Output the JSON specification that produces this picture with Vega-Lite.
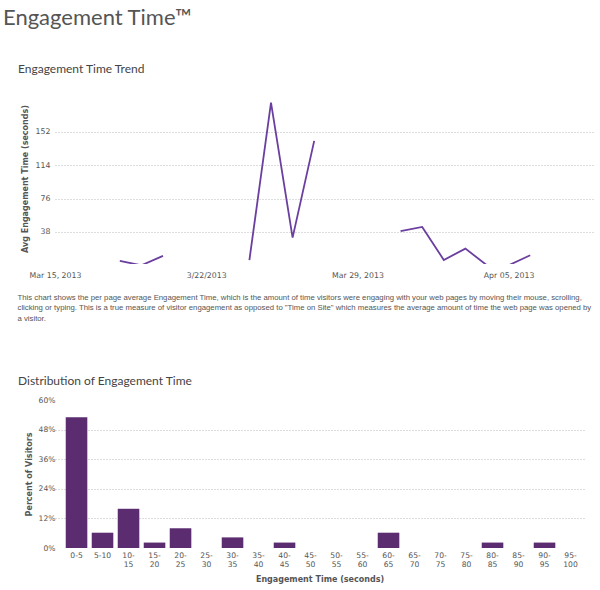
{
  "$schema": "https://vega.github.io/schema/vega-lite/v6.json",
  "background": "white",
  "padding": {"left": 3, "top": 7, "right": 0, "bottom": 0},
  "title": {"text": "Engagement Time™", "anchor": "start", "frame": "bounds", "dx": -14, "font": "Lato", "fontSize": 22, "fontWeight": "normal", "color": "#555555", "baseline": "alphabetic", "offset": 16},
  "config": {
    "view": {"stroke": null},
    "concat": {"spacing": 53},
    "axis": {"tickSize": 0, "ticks": false, "domain": false, "labelFont": "DejaVu Sans", "labelColor": "#555555", "titleFont": "DejaVu Sans", "titleFontWeight": "bold", "titleColor": "#555555", "gridColor": "#bbbbbb", "gridDash": [1, 2]}
  },
  "vconcat": [
    {
      "width": 540,
      "height": 171,
      "title": {"text": "Engagement Time Trend", "anchor": "start", "frame": "group", "dx": -37, "font": "Lato", "fontSize": 12, "fontWeight": "normal", "color": "#444444", "baseline": "alphabetic", "offset": 8},
      "data": {"values": [
        {"date": "2013-03-15", "value": null},
        {"date": "2013-03-16", "value": null},
        {"date": "2013-03-17", "value": null},
        {"date": "2013-03-18", "value": 5},
        {"date": "2013-03-19", "value": 0},
        {"date": "2013-03-20", "value": 10.7},
        {"date": "2013-03-21", "value": null},
        {"date": "2013-03-22", "value": null},
        {"date": "2013-03-23", "value": null},
        {"date": "2013-03-24", "value": 6},
        {"date": "2013-03-25", "value": 185},
        {"date": "2013-03-26", "value": 31.5},
        {"date": "2013-03-27", "value": 141.5},
        {"date": "2013-03-28", "value": null},
        {"date": "2013-03-29", "value": null},
        {"date": "2013-03-30", "value": null},
        {"date": "2013-03-31", "value": 39},
        {"date": "2013-04-01", "value": 43.7},
        {"date": "2013-04-02", "value": 6.1},
        {"date": "2013-04-03", "value": 19},
        {"date": "2013-04-04", "value": 0},
        {"date": "2013-04-05", "value": 0},
        {"date": "2013-04-06", "value": 11.5},
        {"date": "2013-04-07", "value": null},
        {"date": "2013-04-08", "value": null},
        {"date": "2013-04-09", "value": null}
      ]},
      "mark": {"type": "line", "color": "#6b3fa0", "strokeWidth": 1.8, "clip": true, "invalid": "break-paths-show-domains"},
      "encoding": {
        "x": {
          "field": "date", "type": "temporal",
          "scale": {"type": "utc", "domain": [{"year": 2013, "month": 3, "date": 15, "utc": true}, {"year": 2013, "month": 4, "date": 9, "utc": true}]},
          "axis": {
            "values": [{"year": 2013, "month": 3, "date": 15, "utc": true}, {"year": 2013, "month": 3, "date": 22, "utc": true}, {"year": 2013, "month": 3, "date": 29, "utc": true}, {"year": 2013, "month": 4, "date": 5, "utc": true}],
            "labelExpr": "utcFormat(datum.value, '%m/%d') == '03/22' ? '3/22/2013' : utcFormat(datum.value, '%b %d, %Y')",
            "grid": false, "labelFontSize": 7.8, "labelPadding": 7, "labelFlush": false, "labelOverlap": false,
            "title": ["This chart shows the per page average Engagement Time, which is the amount of time visitors were engaging with your web pages by moving their mouse, scrolling,", "clicking or typing. This is a true measure of visitor engagement as opposed to \"Time on Site\" which measures the average amount of time the web page was opened by", "a visitor."],
            "titleFont": "Liberation Sans", "titleFontSize": 7.75, "titleFontWeight": "normal", "titleColor": "#555555",
            "titleAlign": "left", "titleAnchor": "start", "titleX": -38, "titleY": 29, "titleBaseline": "top", "titleLineHeight": 10.6
          }
        },
        "y": {
          "field": "value", "type": "quantitative",
          "scale": {"domain": [1.5, 196], "nice": false, "zero": false},
          "axis": {"values": [38, 76, 114, 152], "grid": true, "labelFontSize": 7.8, "labelPadding": 5, "title": "Avg Engagement Time  (seconds)", "titleFontSize": 8, "titlePadding": 6}
        }
      }
    },
    {
      "width": 529,
      "height": 148,
      "title": {"text": "Distribution of Engagement Time", "anchor": "start", "frame": "group", "dx": -37, "font": "Lato", "fontSize": 12, "fontWeight": "normal", "color": "#444444", "baseline": "alphabetic", "offset": -1},
      "data": {"values": [
        {"bin": "0-5", "pct": 0.53},
        {"bin": "5-10", "pct": 0.062},
        {"bin": "10-15", "pct": 0.159},
        {"bin": "15-20", "pct": 0.022},
        {"bin": "20-25", "pct": 0.08},
        {"bin": "25-30", "pct": 0},
        {"bin": "30-35", "pct": 0.043},
        {"bin": "35-40", "pct": 0},
        {"bin": "40-45", "pct": 0.022},
        {"bin": "45-50", "pct": 0},
        {"bin": "50-55", "pct": 0},
        {"bin": "55-60", "pct": 0},
        {"bin": "60-65", "pct": 0.062},
        {"bin": "65-70", "pct": 0},
        {"bin": "70-75", "pct": 0},
        {"bin": "75-80", "pct": 0},
        {"bin": "80-85", "pct": 0.022},
        {"bin": "85-90", "pct": 0},
        {"bin": "90-95", "pct": 0.022},
        {"bin": "95-100", "pct": 0}
      ]},
      "mark": {"type": "bar", "color": "#5b2c6f"},
      "encoding": {
        "x": {
          "field": "bin", "type": "nominal", "sort": null,
          "scale": {"paddingInner": 0.17, "paddingOuter": 0.258, "align": 0.8},
          "axis": {
            "labelAngle": 0, "labelFontSize": 7.6, "labelPadding": 3, "labelLineHeight": 9,
            "labelExpr": "length(datum.label) > 4 ? [slice(datum.label, 0, indexof(datum.label, '-') + 1), slice(datum.label, indexof(datum.label, '-') + 1)] : datum.label",
            "title": "Engagement Time  (seconds)", "titleFontSize": 8, "titlePadding": 8
          }
        },
        "y": {
          "field": "pct", "type": "quantitative",
          "scale": {"domain": [0, 0.6], "nice": false},
          "axis": {
            "values": [0, 0.12, 0.24, 0.36, 0.48, 0.6], "format": ".0%", "grid": true,
            "gridOpacity": {"condition": {"test": "datum.value == 0 || datum.value > 0.59", "value": 0}, "value": 1},
            "labelFontSize": 7.6, "labelPadding": 0,
            "title": "Percent of Visitors", "titleFontSize": 8, "titlePadding": 5
          }
        }
      }
    }
  ]
}
